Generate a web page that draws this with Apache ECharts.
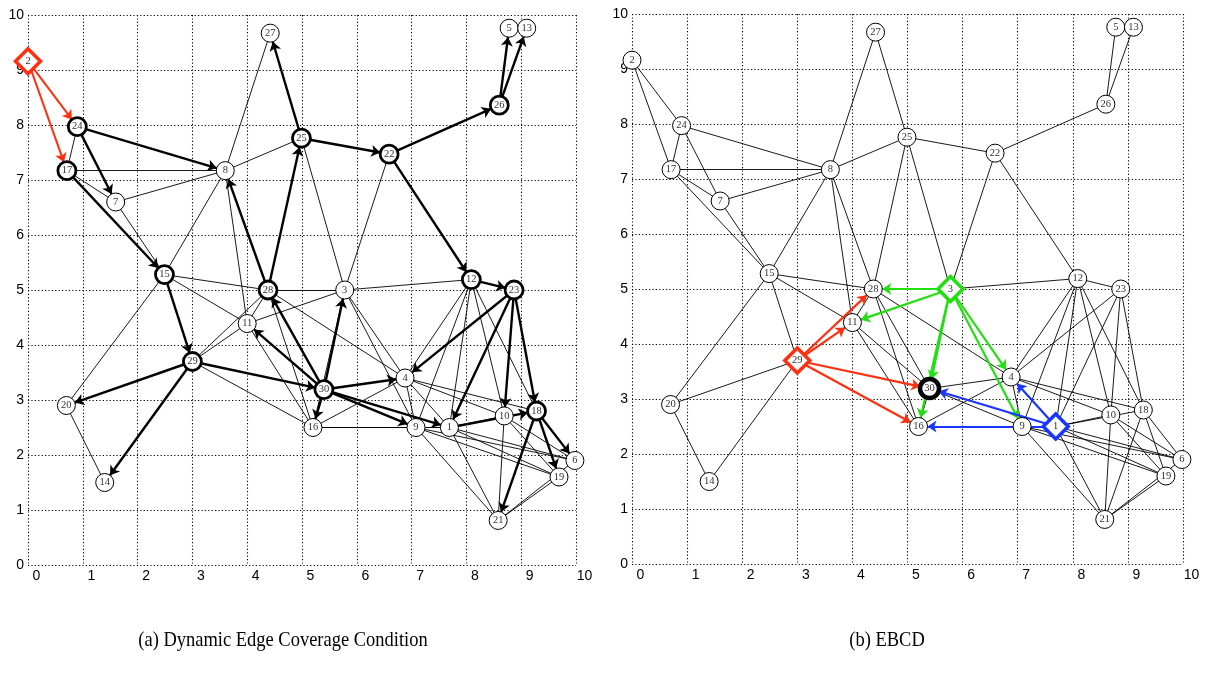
<!DOCTYPE html>
<html>
<head>
<meta charset="utf-8">
<script src="https://cdn.jsdelivr.net/npm/echarts@6/dist/echarts.min.js"></script>
<style>
html,body{margin:0;padding:0;background:#fff;}
#chart{width:1215px;height:675px;}
</style>
</head>
<body>
<div id="chart"></div>
<script>
// ---- data ----
const nodeIds = ['1','2','3','4','5','6','7','8','9','10','11','12','13','14','15','16','17','18','19','20','21','22','23','24','25','26','27','28','29','30'];
const nodeX = [7.69, 0.00, 5.78, 6.88, 8.78, 9.98, 1.60, 3.60, 7.08, 8.69, 4.00, 8.09, 9.10, 1.40, 2.49, 5.20, 0.71, 9.28, 9.69, 0.70, 8.58, 6.59, 8.87, 0.90, 4.99, 8.60, 4.42, 4.38, 3.00, 5.40];
const nodeY = [2.50, 9.16, 5.00, 3.40, 9.76, 1.90, 6.60, 7.17, 2.50, 2.71, 4.39, 5.19, 9.76, 1.50, 5.28, 2.50, 7.17, 2.80, 1.60, 2.90, 0.81, 7.47, 5.00, 7.97, 7.76, 8.36, 9.67, 5.00, 3.70, 3.19];

const edges = [
  [2,24],[2,17],[24,17],[24,8],[24,7],[17,8],[17,7],[17,15],[7,15],[7,8],
  [8,27],[8,25],[8,15],[8,11],[8,28],[27,25],[25,22],[25,3],[25,28],[22,3],
  [22,26],[22,12],[26,5],[26,13],[15,28],[15,29],[15,20],[15,11],[28,3],[28,11],
  [28,29],[28,30],[28,16],[28,4],[29,20],[29,14],[29,11],[29,30],[29,16],[20,14],
  [11,3],[11,30],[11,16],[3,12],[3,30],[3,16],[3,4],[3,9],[30,4],[30,16],
  [30,9],[30,1],[16,4],[16,9],[16,1],[12,23],[12,4],[12,9],[12,1],[12,10],
  [12,18],[23,4],[23,1],[23,10],[23,18],[4,9],[4,1],[4,18],[4,10],[9,1],
  [9,6],[9,19],[9,21],[1,10],[1,18],[1,6],[1,19],[1,21],[10,21],[10,6],
  [10,19],[18,6],[18,19],[18,21],[21,19],[21,6]
];

// panel (a) directed forwarding edges
const leftRedArrows = [[2,24],[2,17]];
const leftBlackArrows = [
  [24,8],[24,7],[17,15],[15,29],[29,20],[29,14],[29,30],[30,11],[30,28],[30,3],
  [30,4],[30,16],[30,9],[30,1],[28,8],[28,25],[25,27],[25,22],[22,26],[22,12],
  [26,5],[26,13],[12,23],[23,4],[23,1],[23,10],[23,18],[18,6],[18,19],[18,21],[1,18]
];
const leftHeavyNodes = [24,17,15,29,28,25,22,26,12,23,30,18];
const leftSource = 2;

// panel (b) coloured edges
const rightRedArrows = [[29,28],[29,11],[29,30],[29,16]];
const rightGreenArrows = [[3,28],[3,11],[3,30],[3,16],[3,4],[3,9]];
const rightBlueArrows = [[1,4],[1,30],[1,16]];
const rightRedNode = 29, rightGreenNode = 3, rightBlueNode = 1, rightTarget = 30;

const captions = ['(a) Dynamic Edge Coverage Condition', '(b) EBCD'];

// ---- styles ----
const RED = '#ff3010', GREEN = '#22e010', BLUE = '#1a35ff';

function key(a,b){ return a < b ? a+'-'+b : b+'-'+a; }

function buildLinks(overlays){
  const used = {};
  overlays.forEach(o => o.list.forEach(e => used[key(e[0],e[1])] = true));
  const links = [];
  edges.forEach(e => {
    if (used[key(e[0],e[1])]) return;
    links.push({source: String(e[0]), target: String(e[1]),
      symbol: ['none','none'],
      lineStyle: {color:'#000', width:0.9, opacity:1, curveness:0}});
  });
  overlays.forEach(o => o.list.forEach(e => {
    links.push({source: String(e[0]), target: String(e[1]),
      symbol: ['none','arrow'], symbolSize: [0, o.arrow],
      lineStyle: {color:o.color, width:o.width, opacity:1, curveness:0}});
  }));
  return links;
}

function buildNodes(styleFn){
  return nodeIds.map((id,i) => {
    const s = styleFn(+id);
    return {
      name: id,
      value: [nodeX[i], nodeY[i]],
      symbol: s.symbol || 'circle',
      symbolSize: s.size || 18,
      itemStyle: {color:'#fff', borderColor: s.color || '#000', borderWidth: s.bw || 1, opacity:1}
    };
  });
}

const leftNodes = buildNodes(n => {
  if (n === leftSource) return {symbol:'diamond', size:25, color:RED, bw:3.5};
  if (leftHeavyNodes.indexOf(n) >= 0) return {bw:2.8};
  return {};
});
const rightNodes = buildNodes(n => {
  if (n === rightRedNode) return {symbol:'diamond', size:25, color:RED, bw:3.5};
  if (n === rightGreenNode) return {symbol:'diamond', size:25, color:GREEN, bw:3.5};
  if (n === rightBlueNode) return {symbol:'diamond', size:25, color:BLUE, bw:3.5};
  if (n === rightTarget) return {size:19, bw:4.5};
  return {};
});

const leftLinks = buildLinks([
  {list: leftBlackArrows, color:'#000', width:2.4, arrow:9},
  {list: leftRedArrows, color:RED, width:2, arrow:9}
]);
const rightLinks = buildLinks([
  {list: rightRedArrows, color:RED, width:2.2, arrow:9},
  {list: rightGreenArrows, color:GREEN, width:2.2, arrow:9},
  {list: rightBlueArrows, color:BLUE, width:2.2, arrow:9}
]);

function axisX(gi){
  return {type:'value', gridIndex:gi, min:0, max:10, interval:1,
    axisLine:{show:false}, axisTick:{show:false},
    splitLine:{show:true, showMinLine:true, showMaxLine:true, lineStyle:{color:'#000', width:1.1, type:[1.2,2.2]}},
    axisLabel:{color:'#000', fontSize:14, fontFamily:'Liberation Sans', margin:4, padding:[0,0,0,17]}};
}
function axisY(gi){
  return {type:'value', gridIndex:gi, min:0, max:10, interval:1,
    axisLine:{show:false}, axisTick:{show:false},
    splitLine:{show:true, showMinLine:true, showMaxLine:true, lineStyle:{color:'#000', width:1.1, type:[1.2,2.2]}},
    axisLabel:{color:'#000', fontSize:14, fontFamily:'Liberation Sans', margin:4, padding:[0,0,19,0]}};
}

function graphSeries(idx, nodes, links){
  return {
    type:'graph', coordinateSystem:'cartesian2d', xAxisIndex:idx, yAxisIndex:idx,
    data: nodes, links: links, roam:false, silent:true,
    label:{show:true, position:'inside', formatter:'{b}', color:'#333', fontSize:10.5, fontFamily:'Liberation Serif'},
    lineStyle:{opacity:1},
    emphasis:{disabled:true},
    z: 3
  };
}

const chart = echarts.init(document.getElementById('chart'), null, {renderer:'canvas'});
chart.setOption({
  animation:false,
  backgroundColor:'#fff',
  grid:[
    {left:28, top:15, width:548, height:550},
    {left:632, top:14, width:551, height:550}
  ],
  xAxis:[axisX(0), axisX(1)],
  yAxis:[axisY(0), axisY(1)],
  graphic:[
    {type:'text', x:283, y:640, scaleX:0.88, style:{text:captions[0], font:'21px "Liberation Serif"', fill:'#000', textAlign:'center', textVerticalAlign:'middle'}},
    {type:'text', x:887, y:640, scaleX:0.88, style:{text:captions[1], font:'21px "Liberation Serif"', fill:'#000', textAlign:'center', textVerticalAlign:'middle'}}
  ],
  series:[graphSeries(0, leftNodes, leftLinks), graphSeries(1, rightNodes, rightLinks)]
});
</script>
</body>
</html>
